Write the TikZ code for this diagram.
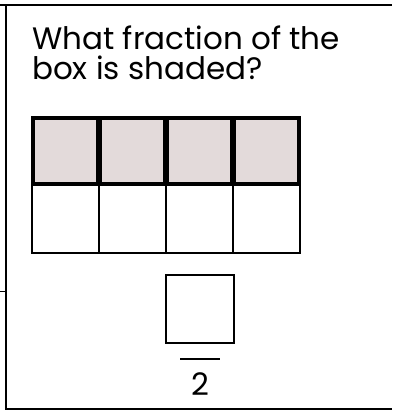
\documentclass[tikz,border=0pt]{standalone}
\usepackage{fontspec}
\setmainfont{Poppins}
\definecolor{shade}{HTML}{E3DADA}
\tikzset{
  frameline/.style={line width=2pt, black},
  shadedcell/.style={draw=black, line width=3.2pt, fill=shade},
  emptycell/.style={draw=black, line width=2pt},
  answerbox/.style={draw=black, line width=1.5pt},
  question/.style={anchor=base west, inner sep=0pt, font=\fontsize{31}{30}\selectfont}
}
\begin{document}
\begin{tikzpicture}[x=1pt,y=-1pt]
\useasboundingbox (0,0) rectangle (392,411);
% frame
\coordinate (tl) at (0,5);
\coordinate (tr) at (392,5);
\coordinate (lt) at (6,5);
\coordinate (lb) at (6,409);
\coordinate (br) at (392,409);
\coordinate (s0) at (0,291.5);
\coordinate (s1) at (6,291.5);
\draw[frameline] (tl) -- (tr);
\draw[frameline] (lt) -- (lb) -- (br);
\draw[frameline, line width=1.5pt] (s0) -- (s1);
% question
\node[question] (q1) at (32,50) {What fraction of the};
\node[question] (q2) at (32,80) {box is shaded?};
% grid
\foreach \i in {0,1,2,3}{
  \pgfmathsetmacro{\xa}{32+67*\i}
  \pgfmathsetmacro{\xb}{32+67*(\i+1)}
  \draw[emptycell] (\xa,184) rectangle (\xb,253);
}
\foreach \i in {0,1,2,3}{
  \pgfmathsetmacro{\xa}{32+67*\i+1}
  \pgfmathsetmacro{\xb}{32+67*(\i+1)-1}
  \draw[shadedcell] (\xa,118) rectangle (\xb,184);
}
% answer
\node[answerbox, minimum width=68pt, minimum height=68pt, inner sep=0pt] (box) at (200,309) {};
\coordinate (bar0) at (180,359);
\coordinate (bar1) at (220,359);
\draw[line width=1.5pt] (bar0) -- (bar1);
\node[font=\fontsize{31}{30}\selectfont, inner sep=0pt, anchor=base] (den) at (200,395) {2};
\end{tikzpicture}
\end{document}
